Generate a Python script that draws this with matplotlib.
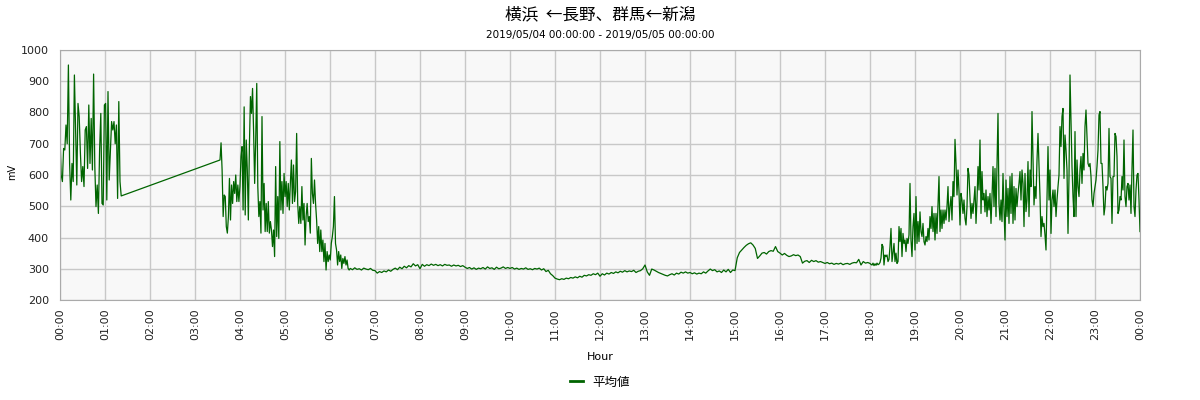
import pandas as pd
import matplotlib
matplotlib.use("Agg")
import matplotlib.pyplot as plt
import matplotlib.dates as mdates
from matplotlib.lines import Line2D

plt.rcParams['font.family'] = ['DejaVu Sans', 'Noto Sans CJK JP']

title = '横浜  ←長野、群馬←新潟'
subtitle = '2019/05/04 00:00:00 - 2019/05/05 00:00:00'
legend_label = '平均値'

# 00:00 - 01:20, every 96 s
seg1_start = '2019-05-04 00:00:00'
seg1_step = '96s'
seg1 = [723, 600, 579, 685, 680, 760, 700, 952, 637, 520, 637, 579, 920, 739, 568,
        829, 787, 670, 579, 627, 563, 744, 755, 621, 824, 637, 781, 616, 923, 627,
        499, 568, 477, 680, 797, 509, 504, 824, 829, 520, 867, 584, 680, 771, 744,
        771, 700, 760, 525, 835, 579, 533]

# 03:33 - 06:25, every 84 s
seg2_start = '2019-05-04 03:33:20'
seg2_step = '84s'
seg2 = [648, 703, 616, 467, 536, 531, 435, 414, 467, 589, 456, 568, 509, 579, 541,
        600, 515, 568, 515, 563, 659, 691, 488, 818, 472, 712, 616, 456, 691, 851,
        797, 877, 739, 573, 712, 893, 563, 467, 515, 414, 787, 488, 573, 419, 509,
        419, 515, 414, 451, 424, 371, 424, 339, 627, 403, 531, 397, 707, 488, 579,
        477, 605, 531, 579, 499, 573, 488, 573, 648, 509, 632, 515, 547, 733, 509,
        445, 499, 445, 563, 456, 509, 376, 467, 509, 451, 467, 414, 653, 541, 509,
        584, 509, 456, 381, 435, 355, 424, 355, 392, 323, 381, 296, 355, 323, 344,
        328, 381, 403, 435, 531, 381, 360, 312, 355, 323, 344, 301, 333, 317, 339,
        312, 328, 301, 296]

# 06:27 - 17:57, every 3 min
seg3_start = '2019-05-04 06:27:00'
seg3_step = '3min'
seg3 = [301, 297, 303, 298, 300, 296, 302, 299, 297, 301, 295,
        294, 286, 291, 288, 293, 290, 296, 292, 298, 302, 297, 305, 300, 308, 303, 310, 306, 316, 309, 313,
        300, 314, 308, 313, 310, 315, 311, 314, 310, 313, 309, 314, 311, 312, 308, 312, 309, 311, 307, 310,
        305, 301, 304, 299, 303, 298, 302, 300, 304, 299, 306, 301, 303, 298, 305, 300, 302, 306, 301, 304,
        301, 304, 299, 302, 298, 301, 299, 303, 298, 300, 297, 301, 299, 302, 296, 300, 291, 295, 284, 278,
        270, 267, 265, 268, 266, 270, 268, 272, 270, 274, 271, 276, 273, 279, 277, 281, 279, 284, 281, 286,
        276, 284, 280, 286, 283, 288, 285, 290, 287, 292, 289, 294, 290, 293, 291, 295, 288, 292, 294, 300,
        312, 290, 279, 299, 296, 292, 288, 285, 282, 279, 277, 281, 284, 280, 286, 283, 289, 286, 290, 286,
        288, 284, 287, 283, 286, 284, 290, 286, 293, 299, 294, 297, 290, 293, 288, 296, 290, 298, 288, 296,
        294, 335, 352, 360, 368, 375, 380, 383, 376, 365, 333, 341, 350, 352, 347, 355, 358, 356, 371, 355,
        350, 344, 349, 343, 339, 341, 345, 342, 344, 339, 318, 324, 326, 320, 327, 323, 326, 321, 323, 320,
        317, 320, 316, 318, 314, 317, 315, 318, 313, 316, 317, 314, 318, 320, 319, 330, 312, 323, 318, 320]

# 18:00 - 24:00, every 80 s
seg4_start = '2019-05-04 18:00:00'
seg4_step = '80s'
seg4 = [317, 314, 312, 318, 310, 316, 311, 318, 313, 315, 320,
        334, 378, 371, 312, 344, 339, 344, 323, 330, 371, 429, 323, 350, 381, 323,
        350, 317, 323, 435, 387, 429, 339, 413, 381, 392, 355, 397, 381, 408, 573,
        392, 339, 435, 477, 360, 531, 381, 451, 387, 482, 419, 403, 445, 387, 376,
        403, 387, 429, 392, 467, 429, 499, 419, 477, 392, 477, 413, 504, 595, 419,
        488, 429, 488, 445, 488, 456, 499, 563, 451, 499, 531, 456, 579, 531, 714,
        637, 536, 616, 547, 440, 541, 520, 477, 520, 461, 440, 499, 621, 600, 525,
        461, 509, 477, 520, 563, 445, 520, 627, 552, 712, 477, 611, 520, 541, 482,
        552, 467, 531, 488, 541, 445, 531, 627, 499, 621, 467, 627,
        797, 509, 456, 520, 451, 605, 488, 392, 584, 467, 557, 445, 595, 477, 605,
        445, 563, 456, 557, 499, 541, 573, 611, 520, 616, 573, 435, 605, 483, 520,
        643, 467, 616, 563, 803, 648, 504, 563, 525, 648, 733, 627, 531, 403, 467,
        435, 445, 408, 360, 531, 691, 520, 616, 413, 520, 552, 499, 552, 467, 520,
        563, 600, 755, 691, 787, 813, 589, 728, 680, 616, 413, 595, 920, 765, 627,
        531, 467, 739, 467, 648, 563, 531, 616, 659, 573, 669, 616, 755, 808, 723,
        637, 627, 637, 595, 520, 499, 541, 563, 584, 627, 680, 792, 803, 637, 637,
        563, 472, 499, 563, 552, 573, 749, 595, 589, 445, 595, 595, 733, 723, 659,
        477, 488, 531, 520, 595, 552, 712, 531, 499, 563, 573, 520, 568, 477, 621,
        744, 499, 467, 552, 600, 605, 520, 419]


def make_series(start, step, values):
    idx = pd.date_range(start, periods=len(values), freq=step)
    return pd.Series(values, index=idx)


data = pd.concat([make_series(seg1_start, seg1_step, seg1),
                  make_series(seg2_start, seg2_step, seg2),
                  make_series(seg3_start, seg3_step, seg3),
                  make_series(seg4_start, seg4_step, seg4)])
data = data.sort_index()

fig = plt.figure(figsize=(12, 4), dpi=100)
ax = fig.add_axes([0.05, 0.25, 0.90, 0.625])
ax.set_facecolor('#f8f8f8')

ax.plot(data.index, data.values, color='#006400', linewidth=0.9)

day0 = pd.Timestamp('2019-05-04 00:00:00')
ax.set_xlim(day0, day0 + pd.Timedelta(hours=24))
ax.set_ylim(200, 1000)
ax.set_yticks(range(200, 1001, 100))
ax.xaxis.set_major_locator(mdates.HourLocator(interval=1))
ax.xaxis.set_major_formatter(mdates.DateFormatter('%H:%M'))
ax.tick_params(axis='x', labelrotation=90, length=0, labelsize=8, pad=6, colors='#222222')
ax.tick_params(axis='y', length=0, labelsize=8, pad=8, colors='#222222')

ax.grid(True, color='#c8c8c8', linewidth=1)
ax.set_axisbelow(True)
for s in ax.spines.values():
    s.set_color('#aaaaaa')

fig.text(0.5, 1 - 15 / 400, title, ha='center', va='center', fontsize=12,
         family=['Noto Sans CJK JP', 'DejaVu Sans'])
fig.text(0.5, 1 - 35 / 400, subtitle, ha='center', va='center', fontsize=7.5)
fig.text(12 / 1200, 1 - 172 / 400, 'mV', rotation=90, ha='center', va='center', fontsize=7)
fig.text(0.5, 1 - 357 / 400, 'Hour', ha='center', va='center', fontsize=8)

handle = Line2D([], [], color='#006400', linewidth=2)
fig.legend([handle], [legend_label], loc='center', bbox_to_anchor=(0.5, 1 - 382 / 400),
           frameon=False, handlelength=1.0,
           prop={'family': ['Noto Sans CJK JP', 'DejaVu Sans'], 'size': 9})

fig.savefig('out.png', dpi=100)
